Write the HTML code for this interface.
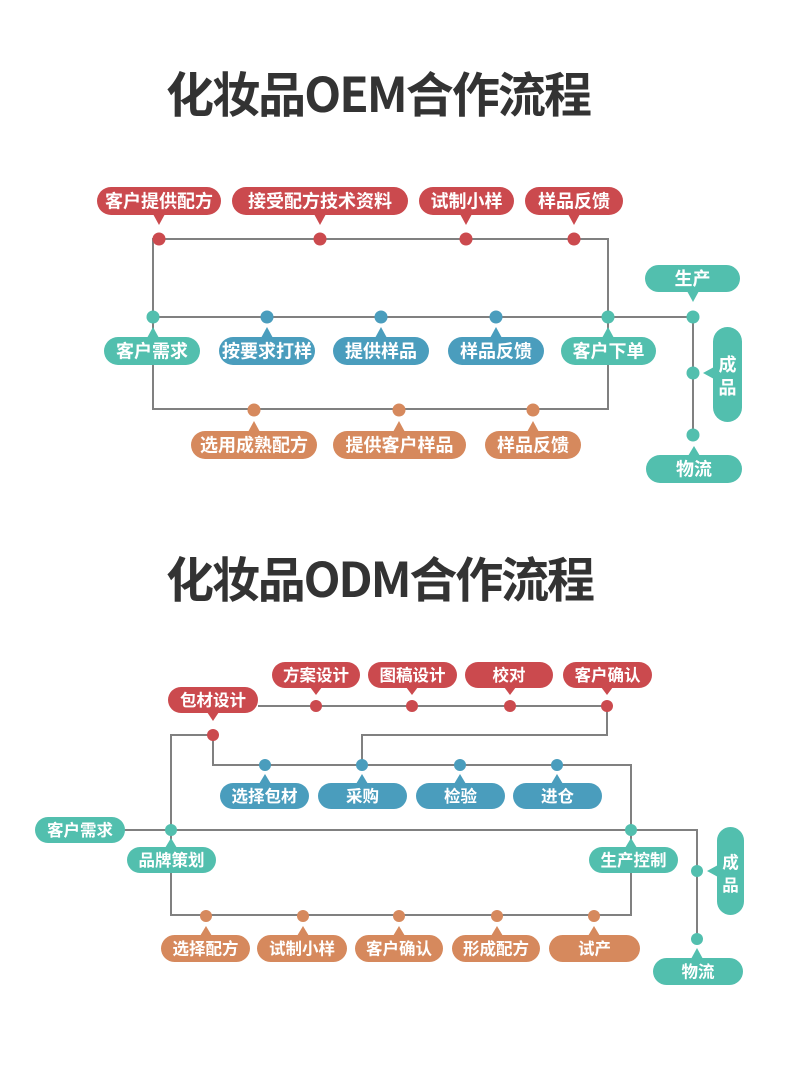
<!DOCTYPE html>
<html><head><meta charset="utf-8">
<style>
html,body{margin:0;padding:0;background:#fff;}
svg{display:block;}
text{font-family:"Liberation Sans","Noto Sans CJK SC",sans-serif;font-weight:bold;}
.t{fill:#fff;text-anchor:middle;}
.a{font-size:18px;}
.b{font-size:16.5px;}
.ln{fill:none;stroke:#808080;stroke-width:2;}
</style></head>
<body>
<svg width="800" height="1070" viewBox="0 0 800 1070" xmlns="http://www.w3.org/2000/svg">
<rect width="800" height="1070" fill="#fff"/>

<!-- Titles -->
<text x="166" y="112" font-size="48" fill="#333" textLength="426" lengthAdjust="spacing" style="font-family:'Noto Sans CJK SC',sans-serif;font-weight:bold">化妆品OEM合作流程</text>
<text x="166" y="597" font-size="48" fill="#333" textLength="429" lengthAdjust="spacing" style="font-family:'Noto Sans CJK SC',sans-serif;font-weight:bold">化妆品ODM合作流程</text>

<!-- ================= OEM ================= -->
<g class="ln">
<rect x="153" y="239" width="455" height="170"/>
<path d="M153 317 H693 V435"/>
</g>

<!-- red top pills -->
<g fill="#cb4a4e">
<rect x="97" y="187" width="124" height="28" rx="14"/><polygon points="153,214 165,214 159,225"/>
<rect x="232" y="187" width="176" height="28" rx="14"/><polygon points="314,214 326,214 320,225"/>
<rect x="419" y="187" width="95" height="28" rx="14"/><polygon points="460,214 472,214 466,225"/>
<rect x="525" y="187" width="98" height="28" rx="14"/><polygon points="568,214 580,214 574,225"/>
<circle cx="159" cy="239" r="6.5"/><circle cx="320" cy="239" r="6.5"/><circle cx="466" cy="239" r="6.5"/><circle cx="574" cy="239" r="6.5"/>
</g>
<g class="t a">
<text x="159" y="207.5">客户提供配方</text>
<text x="320" y="207.5">接受配方技术资料</text>
<text x="466.5" y="207.5">试制小样</text>
<text x="574" y="207.5">样品反馈</text>
</g>

<!-- middle row -->
<g fill="#52bfae">
<rect x="104" y="337" width="96" height="28" rx="14"/><polygon points="147,338 159,338 153,327"/>
<rect x="561" y="337" width="95" height="28" rx="14"/><polygon points="602,338 614,338 608,327"/>
<circle cx="153" cy="317" r="6.5"/><circle cx="608" cy="317" r="6.5"/><circle cx="693" cy="317" r="6.5"/>
<rect x="645" y="265" width="95" height="27" rx="13.5"/><polygon points="687,291 699,291 693,302"/>
<rect x="713" y="327" width="29" height="95" rx="14.5"/><polygon points="714,367 714,379 703,373"/>
<circle cx="693" cy="373" r="6.5"/>
<circle cx="693" cy="435" r="6.5"/>
<rect x="646" y="455" width="96" height="28" rx="14"/><polygon points="688,456 700,456 694,446"/>
</g>
<g fill="#4a9dbd">
<rect x="219" y="337" width="96" height="28" rx="14"/><polygon points="261,338 273,338 267,327"/>
<rect x="333" y="337" width="96" height="28" rx="14"/><polygon points="375,338 387,338 381,327"/>
<rect x="448" y="337" width="96" height="28" rx="14"/><polygon points="490,338 502,338 496,327"/>
<circle cx="267" cy="317" r="6.5"/><circle cx="381" cy="317" r="6.5"/><circle cx="496" cy="317" r="6.5"/>
</g>
<g class="t a">
<text x="152" y="357.5">客户需求</text>
<text x="267" y="357.5">按要求打样</text>
<text x="381" y="357.5">提供样品</text>
<text x="496" y="357.5">样品反馈</text>
<text x="608.5" y="357.5">客户下单</text>
<text x="692.5" y="285">生产</text>
<text x="727.5" y="371">成</text>
<text x="727.5" y="394">品</text>
<text x="694" y="475.5">物流</text>
</g>

<!-- bottom orange -->
<g fill="#d6895d">
<rect x="191" y="431" width="126" height="28" rx="14"/><polygon points="248,432 260,432 254,421"/>
<rect x="333" y="431" width="133" height="28" rx="14"/><polygon points="393,432 405,432 399,421"/>
<rect x="485" y="431" width="96" height="28" rx="14"/><polygon points="527,432 539,432 533,421"/>
<circle cx="254" cy="410" r="6.5"/><circle cx="399" cy="410" r="6.5"/><circle cx="533" cy="410" r="6.5"/>
</g>
<g class="t a">
<text x="254" y="451.5">选用成熟配方</text>
<text x="399.5" y="451.5">提供客户样品</text>
<text x="533" y="451.5">样品反馈</text>
</g>

<!-- ================= ODM ================= -->
<g class="ln">
<path d="M258 706 H607 V735 H362 V765"/>
<path d="M213 735 V765 H631 V915 H171 V735 H213"/>
<path d="M124 830 H697 V939"/>
</g>

<!-- red -->
<g fill="#cb4a4e">
<rect x="272" y="662" width="88" height="26" rx="13"/><polygon points="310,687 322,687 316,695"/>
<rect x="368" y="662" width="89" height="26" rx="13"/><polygon points="406,687 418,687 412,695"/>
<rect x="465" y="662" width="88" height="26" rx="13"/><polygon points="504,687 516,687 510,695"/>
<rect x="563" y="662" width="89" height="26" rx="13"/><polygon points="601,687 613,687 607,695"/>
<circle cx="316" cy="706" r="6"/><circle cx="412" cy="706" r="6"/><circle cx="510" cy="706" r="6"/><circle cx="607" cy="706" r="6"/>
<rect x="168" y="687" width="90" height="26" rx="13"/><polygon points="207,712 219,712 213,721"/>
<circle cx="213" cy="735" r="6"/>
</g>
<g class="t b">
<text x="316" y="681">方案设计</text>
<text x="412.5" y="681">图稿设计</text>
<text x="509" y="681">校对</text>
<text x="607.5" y="681">客户确认</text>
<text x="213" y="706">包材设计</text>
</g>

<!-- blue -->
<g fill="#4a9dbd">
<rect x="220" y="783" width="89" height="26" rx="13"/><polygon points="259,784 271,784 265,774"/>
<rect x="318" y="783" width="89" height="26" rx="13"/><polygon points="356,784 368,784 362,774"/>
<rect x="416" y="783" width="89" height="26" rx="13"/><polygon points="454,784 466,784 460,774"/>
<rect x="513" y="783" width="89" height="26" rx="13"/><polygon points="551,784 563,784 557,774"/>
<circle cx="265" cy="765" r="6"/><circle cx="362" cy="765" r="6"/><circle cx="460" cy="765" r="6"/><circle cx="557" cy="765" r="6"/>
</g>
<g class="t b">
<text x="264.5" y="802">选择包材</text>
<text x="362.5" y="802">采购</text>
<text x="460.5" y="802">检验</text>
<text x="557.5" y="802">进仓</text>
</g>

<!-- teal -->
<g fill="#52bfae">
<rect x="35" y="817" width="90" height="26" rx="13"/>
<rect x="127" y="847" width="89" height="26" rx="13"/><polygon points="165,848 177,848 171,838"/>
<circle cx="171" cy="830" r="6"/>
<rect x="589" y="847" width="89" height="26" rx="13"/><polygon points="625,848 637,848 631,838"/>
<circle cx="631" cy="830" r="6"/>
<rect x="717" y="827" width="27" height="88" rx="13.5"/><polygon points="718,865 718,877 707,871"/>
<circle cx="697" cy="871" r="6"/>
<circle cx="697" cy="939" r="6"/>
<rect x="653" y="958" width="90" height="27" rx="13.5"/><polygon points="691,959 703,959 697,948"/>
</g>
<g class="t b">
<text x="80" y="836">客户需求</text>
<text x="171.5" y="866">品牌策划</text>
<text x="633.5" y="866">生产控制</text>
<text x="730.5" y="868">成</text>
<text x="730.5" y="891">品</text>
<text x="698" y="977.5">物流</text>
</g>

<!-- orange -->
<g fill="#d6895d">
<rect x="161" y="935" width="89" height="27" rx="13.5"/><polygon points="200,936 212,936 206,926"/>
<rect x="257" y="935" width="90" height="27" rx="13.5"/><polygon points="297,936 309,936 303,926"/>
<rect x="355" y="935" width="88" height="27" rx="13.5"/><polygon points="393,936 405,936 399,926"/>
<rect x="452" y="935" width="88" height="27" rx="13.5"/><polygon points="491,936 503,936 497,926"/>
<rect x="549" y="935" width="91" height="27" rx="13.5"/><polygon points="588,936 600,936 594,926"/>
<circle cx="206" cy="916" r="6"/><circle cx="303" cy="916" r="6"/><circle cx="399" cy="916" r="6"/><circle cx="497" cy="916" r="6"/><circle cx="594" cy="916" r="6"/>
</g>
<g class="t b">
<text x="205.5" y="954.5">选择配方</text>
<text x="302" y="954.5">试制小样</text>
<text x="399" y="954.5">客户确认</text>
<text x="496" y="954.5">形成配方</text>
<text x="594.5" y="954.5">试产</text>
</g>
</svg>
</body></html>
